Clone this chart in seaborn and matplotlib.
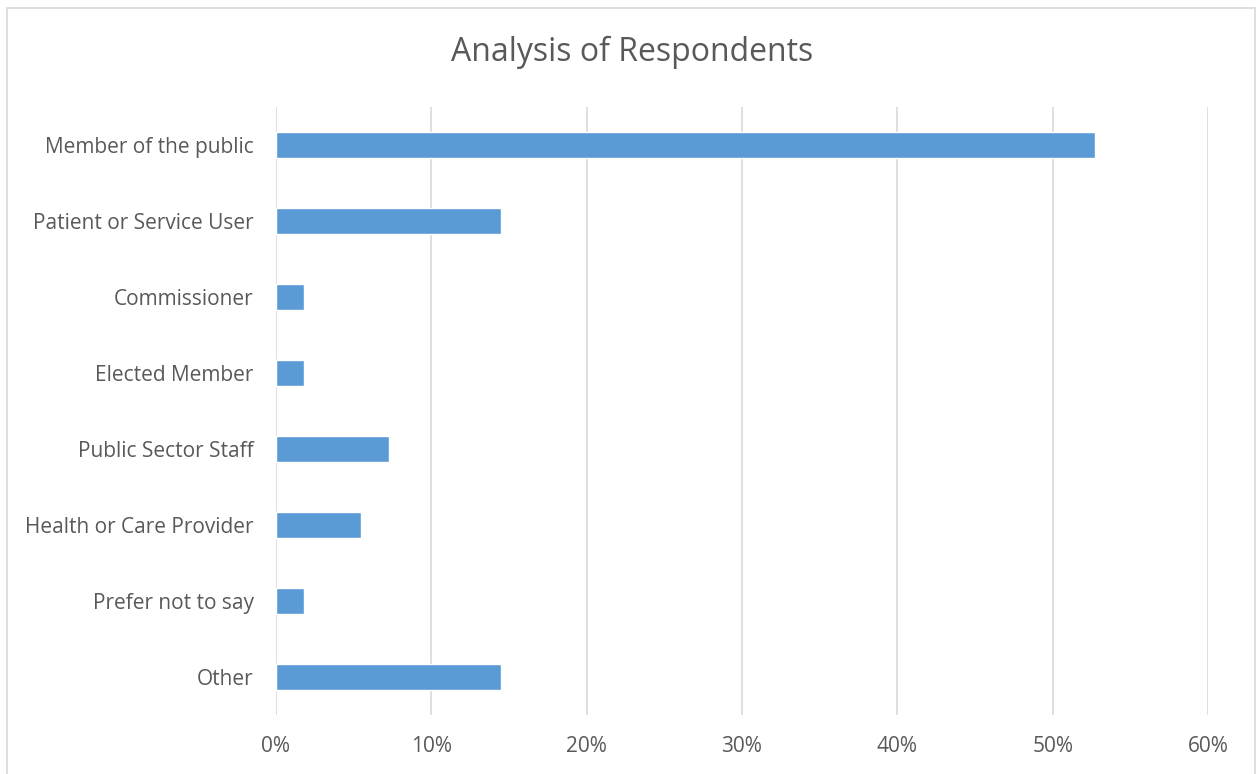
import matplotlib
matplotlib.use("Agg")
import matplotlib.pyplot as plt
import seaborn as sns
import pandas as pd
from matplotlib.ticker import PercentFormatter
from matplotlib.patches import Rectangle

categories = ["Member of the public", "Patient or Service User", "Commissioner",
              "Elected Member", "Public Sector Staff", "Health or Care Provider",
              "Prefer not to say", "Other"]
values = [52.7, 14.5, 1.8, 1.8, 7.3, 5.5, 1.8, 14.5]
xticks = [0, 10, 20, 30, 40, 50, 60]

df = pd.DataFrame({"category": categories, "value": values})

sns.set_theme(style="white")
plt.rcParams["font.family"] = ["Open Sans", "DejaVu Sans"]

W, H = 1257, 774
fig = plt.figure(figsize=(W / 100, H / 100), dpi=100)
ax = fig.add_axes([276 / W, 1 - 715 / H, (1208 - 276) / W, (715 - 107) / H])

sns.barplot(data=df, x="value", y="category", color="#5B9BD5", width=0.34,
            saturation=1, ax=ax, zorder=3)

ax.set_xlim(0, 60)
ax.set_xticks(xticks)
ax.xaxis.set_major_formatter(PercentFormatter(decimals=0))
ax.grid(axis="x", color="#D9D9D9", linewidth=1.2, zorder=0)
ax.set_axisbelow(True)
for s in ax.spines.values():
    s.set_visible(False)
ax.set_xlabel("")
ax.set_ylabel("")
ax.tick_params(axis="both", length=0, colors="#595959", labelsize=15)
ax.tick_params(axis="x", pad=15)
ax.tick_params(axis="y", pad=16)

fig.text(632 / W, 1 - 52 / H, "Analysis of Respondents", ha="center", va="center",
         fontsize=23, color="#595959")

fig.patches.append(Rectangle((7 / W, -0.05), (1255 - 7) / W, 1.05 - 8 / H,
                             transform=fig.transFigure, fill=False,
                             edgecolor="#D9D9D9", linewidth=1.2))

fig.savefig("out.png", dpi=100)
